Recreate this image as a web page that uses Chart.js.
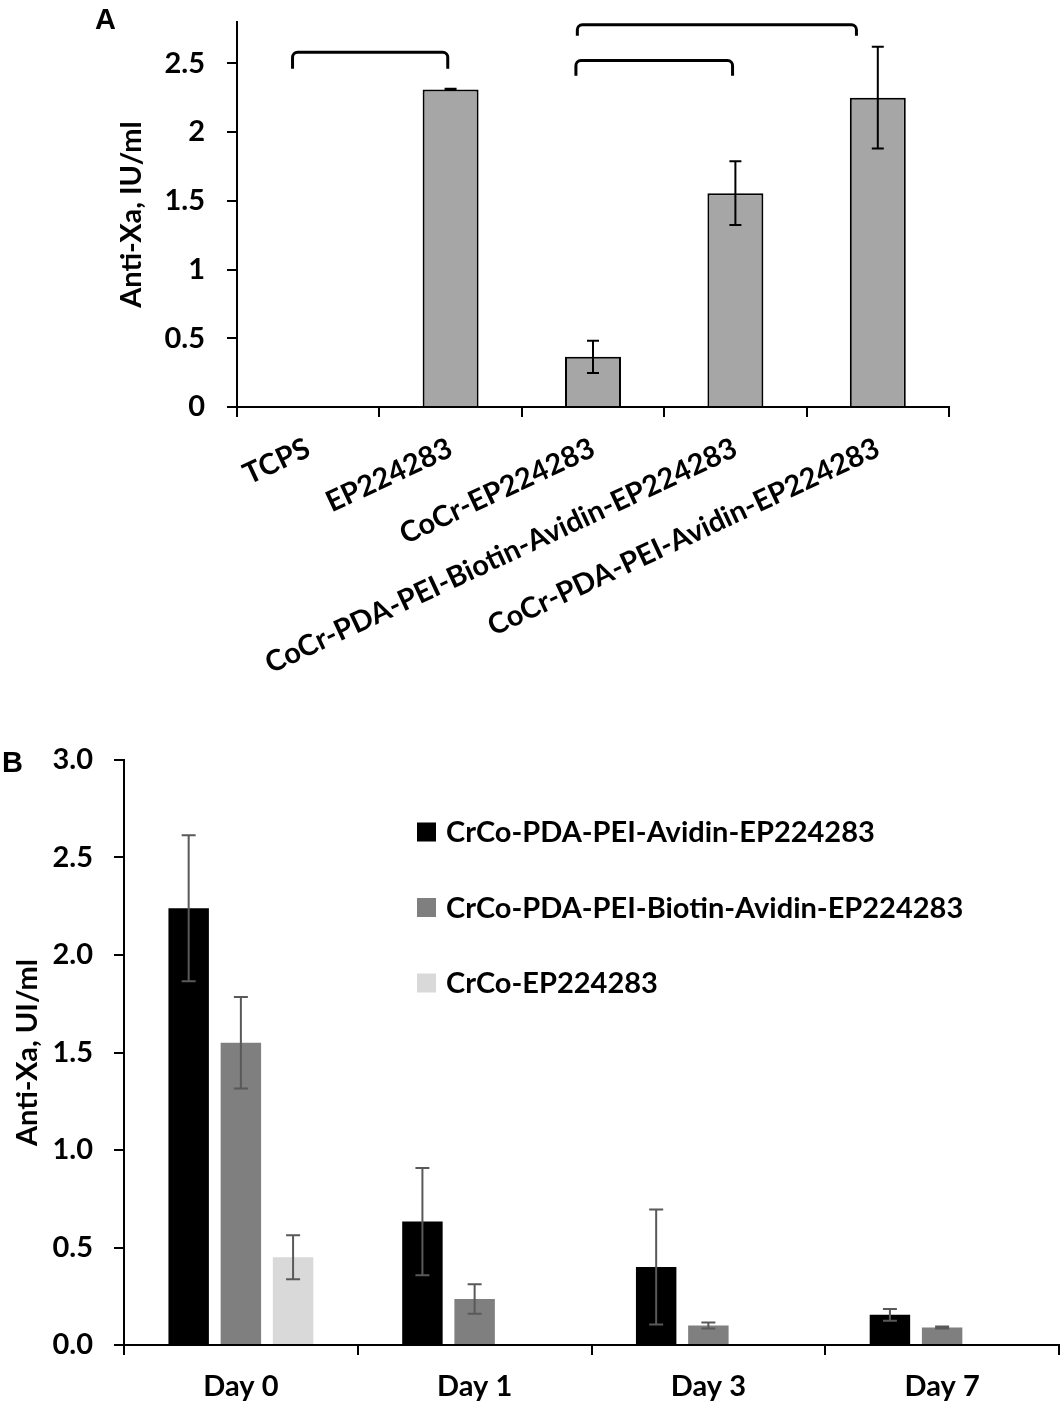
<!DOCTYPE html>
<html>
<head>
<meta charset="utf-8">
<script src="https://cdn.jsdelivr.net/npm/chart.js@4.4.1/dist/chart.umd.min.js"></script>
<style>
  body { margin:0; background:#fff; }
  #wrap { position:relative; width:1064px; height:1416px; }
  canvas { position:absolute; left:0; }
  #chartA { top:0; }
  #chartB { top:700px; }
</style>
</head>
<body>
<div id="wrap">
  <canvas id="chartA" width="1064" height="700"></canvas>
  <canvas id="chartB" width="1064" height="716"></canvas>
</div>
<script>
// ===== Data: panel A =====
const surfaces = ['TCPS', 'EP224283', 'CoCr-EP224283', 'CoCr-PDA-PEI-Biotin-Avidin-EP224283', 'CoCr-PDA-PEI-Avidin-EP224283'];
const antiXaA  = [0, 2.31, 0.365, 1.555, 2.25];
const errA     = [0, 0.004, 0.117, 0.232, 0.37];

// significance brackets (x in category index units, y in IU/ml)
const bracketFrom = [-0.11, 1.89, 1.88];
const bracketTo   = [0.98, 3.85, 2.98];
const bracketTop  = [2.58, 2.78, 2.52];
const bracketFoot = [2.46, 2.70, 2.41];

// ===== Data: panel B =====
const days        = ['Day 0', 'Day 1', 'Day 3', 'Day 7'];
const seriesNames = ['CrCo-PDA-PEI-Avidin-EP224283', 'CrCo-PDA-PEI-Biotin-Avidin-EP224283', 'CrCo-EP224283'];
const avidinVals  = [2.24, 0.633, 0.40, 0.155];
const avidinErr   = [0.374, 0.275, 0.295, 0.03];
const biotinVals  = [1.55, 0.236, 0.10, 0.09];
const biotinErr   = [0.235, 0.076, 0.015, 0.005];
const crcoVals    = [0.45, null, null, null];
const crcoErr     = [0.113, null, null, null];

const FONT = 'Lato, "Liberation Sans", sans-serif';
const FS = 29;
Chart.defaults.font.family = FONT;
Chart.defaults.font.weight = 'bold';
Chart.defaults.color = '#000';

// ===== Plugins =====
const errorBars = {
  id: 'errorBars',
  afterDatasetsDraw(chart, args, opts) {
    const { ctx } = chart;
    const y = chart.scales.y;
    ctx.save();
    ctx.strokeStyle = opts.color;
    ctx.lineWidth = opts.width;
    chart.data.datasets.forEach((ds, i) => {
      if (!ds.errors) return;
      chart.getDatasetMeta(i).data.forEach((bar, j) => {
        const v = ds.data[j], e = ds.errors[j];
        if (v == null || !e) return;
        const x = bar.x;
        const top = y.getPixelForValue(v + e), bot = y.getPixelForValue(v - e);
        ctx.beginPath();
        ctx.moveTo(x, top); ctx.lineTo(x, bot);
        ctx.moveTo(x - opts.cap, top); ctx.lineTo(x + opts.cap, top);
        ctx.moveTo(x - opts.cap, bot); ctx.lineTo(x + opts.cap, bot);
        ctx.stroke();
      });
    });
    ctx.restore();
  }
};

const brackets = {
  id: 'brackets',
  afterDatasetsDraw(chart) {
    const { ctx, scales: { x, y } } = chart;
    ctx.save();
    ctx.strokeStyle = '#000';
    ctx.lineWidth = 3;
    bracketFrom.forEach((f, i) => {
      const x0 = x.getPixelForValue(f), x1 = x.getPixelForValue(bracketTo[i]);
      const yt = y.getPixelForValue(bracketTop[i]), yf = y.getPixelForValue(bracketFoot[i]);
      ctx.beginPath();
      ctx.moveTo(x0, yf);
      ctx.arcTo(x0, yt, x1, yt, 5);
      ctx.arcTo(x1, yt, x1, yf, 5);
      ctx.lineTo(x1, yf);
      ctx.stroke();
    });
    ctx.restore();
  }
};

const panelLetter = {
  id: 'panelLetter',
  afterDraw(chart, args, opts) {
    const { ctx } = chart;
    ctx.save();
    ctx.font = 'bold 29px Arial, "Liberation Sans", sans-serif';
    ctx.fillStyle = '#000';
    ctx.textBaseline = 'alphabetic';
    ctx.fillText(opts.text, opts.x, opts.y);
    ctx.restore();
  }
};

const boxLegend = {
  id: 'boxLegend',
  afterDraw(chart, args, opts) {
    const { ctx, chartArea } = chart;
    ctx.save();
    ctx.font = `bold ${FS}px ${FONT}`;
    ctx.textBaseline = 'middle';
    chart.data.datasets.forEach((ds, i) => {
      const cy = chartArea.top + opts.top + i * opts.gap;
      const bx = chartArea.left + opts.left;
      ctx.fillStyle = ds.backgroundColor;
      ctx.fillRect(bx, cy - opts.box / 2, opts.box, opts.box);
      ctx.fillStyle = '#000';
      ctx.fillText(ds.label, bx + opts.box + 10, cy + 1);
    });
    ctx.restore();
  }
};

const axisLine = { color: '#000', width: 2 };
const tickMarks = { drawOnChartArea: false, tickLength: 10, color: '#000', lineWidth: 2 };
const fixY = w => s => { s.width = w; s.paddingTop = 0; s.paddingBottom = 0; };
const fixX = h => s => { s.height = h; s.paddingLeft = 0; s.paddingRight = 0; };

// ===== Panel A =====
new Chart(document.getElementById('chartA'), {
  type: 'bar',
  data: {
    labels: surfaces,
    datasets: [{
      data: antiXaA, errors: errA,
      backgroundColor: '#a6a6a6', borderColor: '#000', borderWidth: 2,
      categoryPercentage: 1, barPercentage: 0.393
    }]
  },
  options: {
    responsive: false, animation: false,
    layout: { padding: { left: 0, right: 115, top: 22, bottom: 0 } },
    plugins: {
      legend: { display: false }, tooltip: { enabled: false },
      errorBars: { color: '#000', width: 2, cap: 6 },
      panelLetter: { text: 'A', x: 95, y: 29 }
    },
    scales: {
      x: {
        grid: { ...tickMarks, offset: true }, border: axisLine,
        ticks: { autoSkip: false, minRotation: 25, maxRotation: 25, padding: 14, font: { size: FS, weight: 'bold' } },
        afterFit: fixX(700 - 407)
      },
      y: {
        min: 0, max: 2.8,
        ticks: { stepSize: 0.5, padding: 22, font: { size: FS, weight: 'bold' }, callback: v => String(v) },
        afterBuildTicks: s => { s.ticks = s.ticks.filter(t => t.value <= 2.5); },
        grid: tickMarks, border: axisLine,
        title: { display: true, text: 'Anti-Xa, IU/ml', font: { size: FS, weight: 'bold' }, padding: { top: 114, bottom: 0 } },
        afterFit: fixY(237)
      }
    }
  },
  plugins: [errorBars, brackets, panelLetter]
});

// ===== Panel B =====
const barOpts = { categoryPercentage: 0.67, barPercentage: 0.775, borderWidth: 0 };
new Chart(document.getElementById('chartB'), {
  type: 'bar',
  data: {
    labels: days,
    datasets: [
      { label: seriesNames[0], data: avidinVals, errors: avidinErr, backgroundColor: '#000000', ...barOpts },
      { label: seriesNames[1], data: biotinVals, errors: biotinErr, backgroundColor: '#7f7f7f', ...barOpts },
      { label: seriesNames[2], data: crcoVals,   errors: crcoErr,   backgroundColor: '#d9d9d9', ...barOpts }
    ]
  },
  options: {
    responsive: false, animation: false,
    layout: { padding: { left: 0, right: 5, top: 60, bottom: 0 } },
    plugins: {
      legend: { display: false }, tooltip: { enabled: false },
      errorBars: { color: '#595959', width: 2, cap: 7 },
      boxLegend: { left: 293, top: 72, gap: 75.5, box: 19 },
      panelLetter: { text: 'B', x: 2, y: 72 }
    },
    scales: {
      x: {
        grid: { ...tickMarks, offset: true }, border: axisLine,
        ticks: { padding: 14, font: { size: FS, weight: 'bold' } },
        afterFit: fixX(716 - 645)
      },
      y: {
        min: 0, max: 3,
        ticks: { stepSize: 0.5, padding: 21, font: { size: FS, weight: 'bold' }, callback: v => v.toFixed(1) },
        grid: tickMarks, border: axisLine,
        title: { display: true, text: 'Anti-Xa, UI/ml', font: { size: FS, weight: 'bold' }, padding: { top: 10, bottom: 0 } },
        afterFit: fixY(124)
      }
    }
  },
  plugins: [errorBars, boxLegend, panelLetter]
});
</script>
</body>
</html>
